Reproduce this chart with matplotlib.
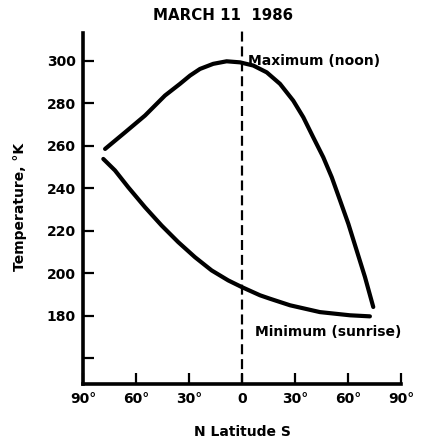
import numpy as np
import matplotlib
matplotlib.use('Agg')
import matplotlib.pyplot as plt

# Latitude in degrees: negative = north, positive = south
max_lat = [-77.5, -66.2, -54.9, -43.6, -35.1, -29.4, -23.8, -16.3, -8.7, -1.1,
           6.4, 14.0, 21.5, 29.0, 34.7, 40.3, 46.0, 50.8, 55.5, 60.2,
           64.9, 69.6, 74.3]
max_temp = [258.5, 266.3, 274.2, 283.6, 289.1, 293.0, 296.1, 298.5, 299.7, 299.2,
            297.7, 294.5, 289.1, 281.2, 273.4, 264.0, 254.6, 245.2, 234.3, 223.3,
            210.8, 198.3, 184.2]

min_lat = [-78.5, -71.9, -64.4, -54.9, -45.5, -36.1, -26.6, -17.2, -7.8, -0.2,
           10.2, 15.8, 27.2, 44.1, 61.1, 72.4]
min_temp = [253.8, 248.4, 240.5, 231.1, 222.5, 214.7, 207.6, 201.4, 196.7, 193.6,
            189.7, 188.1, 185.0, 181.8, 180.3, 179.8]

x_ticks = [-90, -60, -30, 0, 30, 60, 90]
x_labels = ['90°', '60°', '30°', '0', '30°', '60°', '90°']
y_ticks = [160, 180, 200, 220, 240, 260, 280, 300]
y_labels = ['', '180', '200', '220', '240', '260', '280', '300']

plt.rcParams['font.family'] = ['DejaVu Sans']
plt.rcParams['font.weight'] = 'bold'

fig = plt.figure(figsize=(4.36, 4.42), dpi=100)
ax = fig.add_axes([83 / 436, 58 / 442, 318 / 436, 351 / 442])

ax.plot(max_lat, max_temp, color='black', lw=3.0, solid_capstyle='round',
        solid_joinstyle='round')
ax.plot(min_lat, min_temp, color='black', lw=3.0, solid_capstyle='round',
        solid_joinstyle='round')

# noon meridian
ax.plot([0, 0], [148, 315], color='black', lw=1.6, linestyle=(0, (4.5, 2.2)),
        clip_on=False)

ax.set_xlim(-90, 90)
ax.set_ylim(148, 313)

ax.spines['top'].set_visible(False)
ax.spines['right'].set_visible(False)
ax.spines['left'].set_linewidth(2.6)
ax.spines['bottom'].set_linewidth(2.6)

ax.set_xticks(x_ticks)
ax.set_xticklabels(x_labels, fontsize=10, fontweight='bold')
ax.set_yticks(y_ticks)
ax.set_yticklabels(y_labels, fontsize=10, fontweight='bold')
ax.tick_params(axis='both', direction='in', length=8, width=1.6)
ax.tick_params(axis='x', pad=6)
ax.tick_params(axis='y', pad=5)

ax.text(3.4, 300, 'Maximum (noon)', fontsize=10, fontweight='bold',
        ha='left', va='center')
ax.text(7.4, 172.3, 'Minimum (sunrise)', fontsize=10, fontweight='bold',
        ha='left', va='center')

fig.text(223 / 436, 1 - 15 / 442, 'MARCH 11  1986', fontsize=10.8,
         fontweight='bold', ha='center', va='center')
fig.text(242 / 436, 1 - 432 / 442, 'N Latitude S', fontsize=10,
         fontweight='bold', ha='center', va='center')
fig.text(20 / 436, 1 - 207 / 442, 'Temperature, °K', fontsize=10,
         fontweight='bold', ha='center', va='center', rotation=90)

fig.savefig('out.png', dpi=100)
